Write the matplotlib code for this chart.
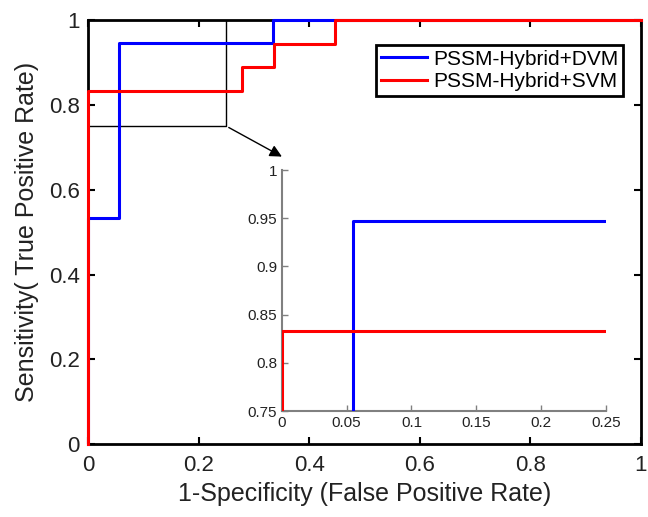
import matplotlib.pyplot as plt

plt.rcParams['font.family'] = ['Liberation Sans', 'DejaVu Sans']

# ROC step curves (false positive rate, true positive rate)
dvm_fpr = [0, 0, 0.055, 0.055, 0.334, 0.334, 1.0]
dvm_tpr = [0, 0.533, 0.533, 0.947, 0.947, 1.0, 1.0]
svm_fpr = [0, 0, 0.279, 0.279, 0.337, 0.337, 0.447, 0.447, 1.0]
svm_tpr = [0, 0.833, 0.833, 0.889, 0.889, 0.944, 0.944, 1.0, 1.0]
labels = ['PSSM-Hybrid+DVM', 'PSSM-Hybrid+SVM']
ticks_main = [0, 0.2, 0.4, 0.6, 0.8, 1]
ticks_zoom_x = [0, 0.05, 0.1, 0.15, 0.2, 0.25]
ticks_zoom_y = [0.75, 0.8, 0.85, 0.9, 0.95, 1]

fig = plt.figure(figsize=(6.48, 5.17), dpi=100)
ax = fig.add_axes([0.136, 0.141, 0.853, 0.820])
ax.plot(dvm_fpr, dvm_tpr, color='#0000ff', lw=2.2, label=labels[0], zorder=3, clip_on=False)
ax.plot(svm_fpr, svm_tpr, color='#ff0000', lw=2.2, label=labels[1], zorder=3.1, clip_on=False)
ax.set_xlim(0, 1)
ax.set_ylim(0, 1)
ax.set_xticks(ticks_main)
ax.set_yticks(ticks_main)
ax.set_xticklabels(['0', '0.2', '0.4', '0.6', '0.8', '1'])
ax.set_yticklabels(['0', '0.2', '0.4', '0.6', '0.8', '1'])
ax.tick_params(direction='in', top=True, right=True, labelsize=16, length=5, width=1.5,
               labelcolor='#222222')
ax.tick_params(axis='x', pad=8)
ax.tick_params(axis='y', pad=6)
for s in ax.spines.values():
    s.set_linewidth(2)
ax.set_xlabel('1-Specificity (False Positive Rate)', fontsize=18, labelpad=4, color='#222222')
ax.set_ylabel('Sensitivity( True Positive Rate)', fontsize=18, labelpad=7, color='#222222')
leg = ax.legend(loc='upper right', fontsize=15, fancybox=False, edgecolor='black',
                framealpha=1, handlelength=2.2, handletextpad=0.3, borderpad=0.25,
                labelspacing=0.15, bbox_to_anchor=(0.987, 0.967))
leg.get_frame().set_linewidth(2)
leg.set_zorder(5)

# zoom rectangle
ax.plot([0, 0.25, 0.25], [0.75, 0.75, 1], color='black', lw=1)
ax.annotate('', xy=(0.355, 0.675), xytext=(0.25, 0.75),
            arrowprops=dict(arrowstyle='-|>', color='black', lw=1, mutation_scale=18))

# inset
axi = fig.add_axes([0.435, 0.205, 0.5, 0.466])
axi.plot(dvm_fpr, dvm_tpr, color='#0000ff', lw=2.2, zorder=3)
axi.plot(svm_fpr, svm_tpr, color='#ff0000', lw=2.2, zorder=3)
axi.set_xlim(0, 0.25)
axi.set_ylim(0.75, 1)
axi.set_xticks(ticks_zoom_x)
axi.set_yticks(ticks_zoom_y)
axi.set_xticklabels(['0', '0.05', '0.1', '0.15', '0.2', '0.25'])
axi.set_yticklabels(['0.75', '0.8', '0.85', '0.9', '0.95', '1'])
axi.spines['top'].set_visible(False)
axi.spines['right'].set_visible(False)
for s in ['left', 'bottom']:
    axi.spines[s].set_color('#808080')
    axi.spines[s].set_linewidth(1.5)
axi.tick_params(direction='in', labelsize=11, length=4, width=1, color='#808080', labelcolor='#222222')
axi.patch.set_alpha(0)

fig.savefig('out.png', dpi=100)
